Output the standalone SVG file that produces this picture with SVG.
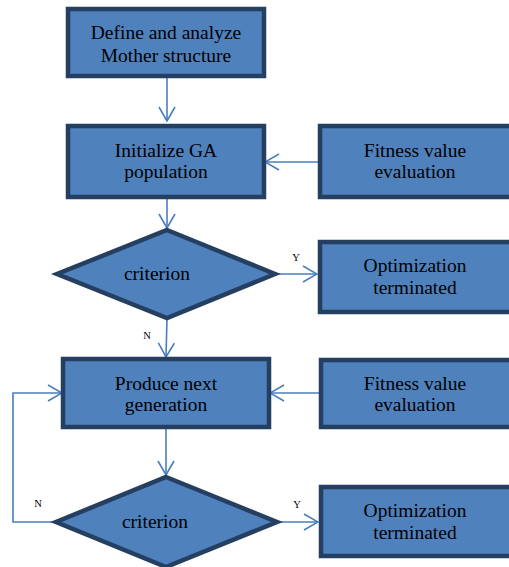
<svg xmlns="http://www.w3.org/2000/svg" width="509" height="567" viewBox="0 0 509 567">
<style>
.n{fill:#4F81BD;stroke:#243F60;stroke-width:4.5}
.t{font-family:"Liberation Serif","Times New Roman",serif;font-size:19.5px;fill:#000;text-anchor:middle}
.s{font-family:"Liberation Serif","Times New Roman",serif;font-size:10.5px;fill:#000;text-anchor:middle}
.c{fill:none;stroke:#4A7EBB;stroke-width:1.6}
</style>
<defs>
<marker id="ah" markerUnits="userSpaceOnUse" viewBox="0 0 16 18" markerWidth="16" markerHeight="18" refX="15" refY="9" orient="auto">
<path d="M1,1 L15,9 L1,17" fill="none" stroke="#4A7EBB" stroke-width="1.6"/>
</marker>
</defs>
<rect width="509" height="567" fill="#fff"/>
<g id="connectors">
<path class="c" d="M167,77 L167,121" marker-end="url(#ah)"/>
<path class="c" d="M319,162 L265,162" marker-end="url(#ah)"/>
<path class="c" d="M167,197 L167,228" marker-end="url(#ah)"/>
<path class="c" d="M275,274 L317,274" marker-end="url(#ah)"/>
<path class="c" d="M167,318 L166,357" marker-end="url(#ah)"/>
<path class="c" d="M320,393 L270,393" marker-end="url(#ah)"/>
<path class="c" d="M166,427 L166,475" marker-end="url(#ah)"/>
<path class="c" d="M277,522 L318,522" marker-end="url(#ah)"/>
<path class="c" d="M56,522 L13,522 L13,393 L62,393" marker-end="url(#ah)"/>
<text class="s" x="296" y="261">Y</text>
<text class="s" x="147" y="339">N</text>
<text class="s" x="38" y="507">N</text>
<text class="s" x="297" y="508">Y</text>
</g>
<g id="define">
<rect class="n" x="68" y="9" width="196" height="67"/>
<text class="t" x="166" y="39">Define and analyze</text>
<text class="t" x="166" y="62">Mother structure</text>
</g>
<g id="init">
<rect class="n" x="68" y="126" width="196" height="71"/>
<text class="t" x="166" y="157">Initialize GA</text>
<text class="t" x="166" y="178">population</text>
</g>
<g id="fitness1">
<rect class="n" x="320" y="126" width="194" height="71"/>
<text class="t" x="415" y="157">Fitness value</text>
<text class="t" x="415" y="178">evaluation</text>
</g>
<g id="criterion1">
<polygon class="n" points="167,230 275,274 167,318 57,274"/>
<text class="t" x="157" y="280">criterion</text>
</g>
<g id="opt1">
<rect class="n" x="320" y="242" width="194" height="70"/>
<text class="t" x="415" y="272">Optimization</text>
<text class="t" x="415" y="294">terminated</text>
</g>
<g id="produce">
<rect class="n" x="63" y="359" width="206" height="68"/>
<text class="t" x="166" y="390">Produce next</text>
<text class="t" x="166" y="411">generation</text>
</g>
<g id="fitness2">
<rect class="n" x="321" y="360" width="193" height="67"/>
<text class="t" x="415" y="390">Fitness value</text>
<text class="t" x="415" y="411">evaluation</text>
</g>
<g id="criterion2">
<polygon class="n" points="166,477 277,522 166,567 56,522"/>
<text class="t" x="155" y="528">criterion</text>
</g>
<g id="opt2">
<rect class="n" x="321" y="487" width="193" height="69"/>
<text class="t" x="415" y="517">Optimization</text>
<text class="t" x="415" y="539">terminated</text>
</g>
</svg>
